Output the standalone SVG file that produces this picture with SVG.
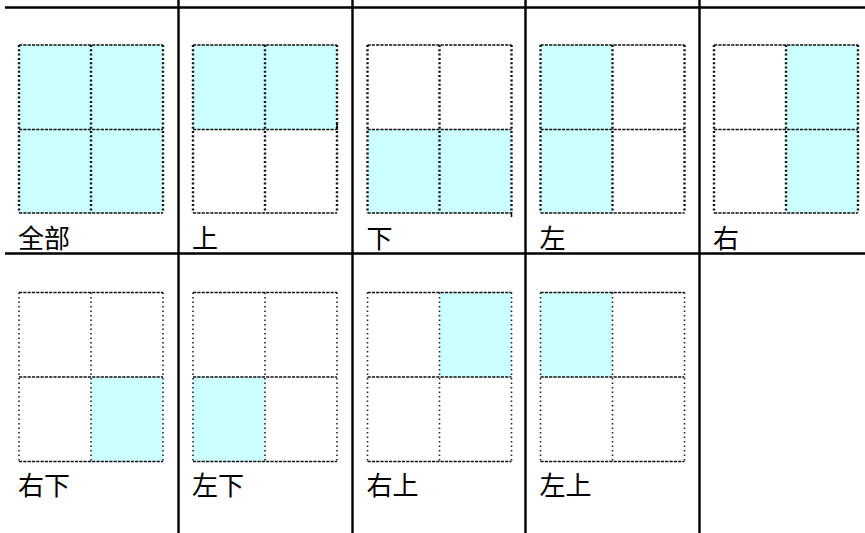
<svg xmlns="http://www.w3.org/2000/svg" width="865" height="533" viewBox="0 0 865 533">
<style>
.border{stroke:#000;stroke-width:2.4;fill:none}
.fill{fill:#CCFFFF}
.h{stroke:#111;stroke-width:1.6;stroke-dasharray:3.2 1.1;fill:none}
.v1{stroke:#111;stroke-width:2.4;stroke-dasharray:2 2.3;fill:none}
.v2{stroke:#222;stroke-width:1.6;stroke-dasharray:1.5 3;fill:none}
.tick{stroke:#000;stroke-width:1.5}
.lbl{font-family:"Noto Sans CJK SC","Noto Sans CJK JP",sans-serif;font-size:26px;fill:#000}
</style>
<rect width="865" height="533" fill="#fff"/>
<g id="table">
<line class="border" x1="5" y1="7.5" x2="865" y2="7.5"/>
<line class="border" x1="5" y1="253.5" x2="865" y2="253.5"/>
<line class="border" x1="178.5" y1="0" x2="178.5" y2="533"/>
<line class="border" x1="352.5" y1="0" x2="352.5" y2="533"/>
<line class="border" x1="525.5" y1="0" x2="525.5" y2="533"/>
<line class="border" x1="699.5" y1="0" x2="699.5" y2="533"/>
</g>
<g id="cell-all">
<rect class="fill" x="19" y="45" width="144" height="168"/>
<path class="v1" d="M19 45V213M91 45V213M163 45V213"/>
<path class="h" d="M19 45H163M19 129.5H163M19 213H163"/>
<text class="lbl" x="18" y="248">全部</text>
</g>
<g id="cell-top">
<rect class="fill" x="193" y="45" width="144" height="84.5"/>
<path class="v1" d="M193 45V213M265 45V213M337 45V213"/>
<path class="h" d="M193 45H337M193 129.5H337M193 213H337"/>
<line class="tick" x1="337" y1="122" x2="337" y2="130"/>
<text class="lbl" x="192" y="248">上</text>
</g>
<g id="cell-bottom">
<rect class="fill" x="367.5" y="129.5" width="144" height="83.5"/>
<path class="v1" d="M367.5 45V213M439.5 45V213M511.5 45V213"/>
<path class="h" d="M367.5 45H511.5M367.5 129.5H511.5M367.5 213H511.5"/>
<line class="tick" x1="511.5" y1="212" x2="511.5" y2="217"/>
<text class="lbl" x="366.5" y="248">下</text>
</g>
<g id="cell-left">
<rect class="fill" x="540.5" y="45" width="72" height="168"/>
<path class="v1" d="M540.5 45V213M612.5 45V213M684.5 45V213"/>
<path class="h" d="M540.5 45H684.5M540.5 129.5H684.5M540.5 213H684.5"/>
<text class="lbl" x="539.5" y="248">左</text>
</g>
<g id="cell-right">
<rect class="fill" x="786" y="45" width="72" height="168"/>
<path class="v1" d="M714 45V213M786 45V213M858 45V213"/>
<path class="h" d="M714 45H858M714 129.5H858M714 213H858"/>
<text class="lbl" x="713" y="248">右</text>
</g>
<g id="cell-bottom-right">
<rect class="fill" x="91" y="377" width="72" height="84.5"/>
<path class="v2" d="M19 292.5V461.5M91 292.5V461.5M163 292.5V461.5"/>
<path class="h" d="M19 292.5H163M19 377H163M19 461.5H163"/>
<text class="lbl" x="18" y="495">右下</text>
</g>
<g id="cell-bottom-left">
<rect class="fill" x="193" y="377" width="72" height="84.5"/>
<path class="v2" d="M193 292.5V461.5M265 292.5V461.5M337 292.5V461.5"/>
<path class="h" d="M193 292.5H337M193 377H337M193 461.5H337"/>
<text class="lbl" x="192" y="495">左下</text>
</g>
<g id="cell-top-right">
<rect class="fill" x="439.5" y="292.5" width="72" height="84.5"/>
<path class="v2" d="M367.5 292.5V461.5M439.5 292.5V461.5M511.5 292.5V461.5"/>
<path class="h" d="M367.5 292.5H511.5M367.5 377H511.5M367.5 461.5H511.5"/>
<text class="lbl" x="366.5" y="495">右上</text>
</g>
<g id="cell-top-left">
<rect class="fill" x="540.5" y="292.5" width="72" height="84.5"/>
<path class="v2" d="M540.5 292.5V461.5M612.5 292.5V461.5M684.5 292.5V461.5"/>
<path class="h" d="M540.5 292.5H684.5M540.5 377H684.5M540.5 461.5H684.5"/>
<text class="lbl" x="539.5" y="495">左上</text>
</g>
</svg>
